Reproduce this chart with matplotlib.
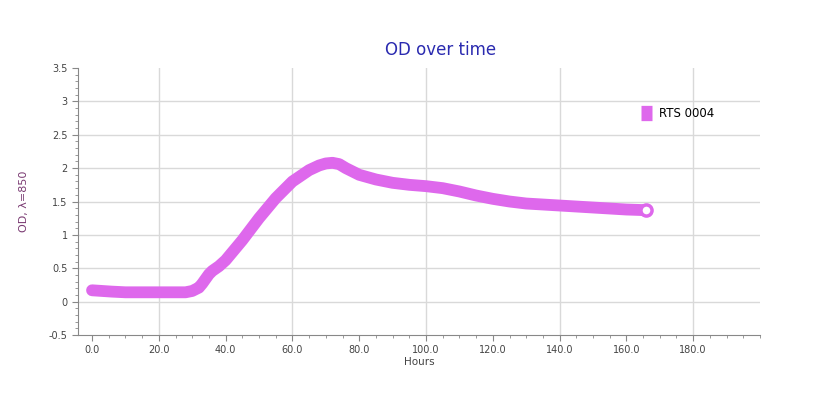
import matplotlib.pyplot as plt
from matplotlib.ticker import MultipleLocator, FormatStrFormatter

# OD readings
hours = [0, 3, 6, 10, 15, 20, 25, 28, 30, 32, 33, 34, 35, 36, 38, 40, 45, 50, 55,
         60, 65, 68, 70, 72, 74, 76, 78, 80, 85, 90, 95, 100, 105, 110, 115, 120,
         125, 130, 140, 150, 160, 166]
od = [0.17, 0.16, 0.15, 0.14, 0.14, 0.14, 0.14, 0.14, 0.16, 0.21, 0.27, 0.34, 0.41,
      0.46, 0.53, 0.62, 0.92, 1.25, 1.55, 1.80, 1.97, 2.04, 2.07, 2.08, 2.06, 2.00,
      1.95, 1.90, 1.83, 1.78, 1.75, 1.73, 1.70, 1.65, 1.59, 1.54, 1.50, 1.47, 1.44,
      1.41, 1.38, 1.37]
series_name = 'RTS 0004'

color = '#DE68EC'
grid_c = '#d9d9d9'
tick_c = '#444444'

fig = plt.figure(figsize=(8.15, 3.94), dpi=100)
ax = fig.add_axes([0.0957, 0.1497, 0.8368, 0.6777])

ax.plot(hours, od, color=color, lw=8.5, solid_capstyle='round', solid_joinstyle='round',
        label=series_name, zorder=3)
ax.plot(hours[-1], od[-1], 'o', ms=8, mfc='white', mec=color, mew=2.5, zorder=4)

ax.set_xlim(-4.2, 200)
ax.set_ylim(-0.5, 3.5)
ax.xaxis.set_minor_locator(MultipleLocator(5))
ax.xaxis.set_major_formatter(FormatStrFormatter('%.1f'))
ax.yaxis.set_minor_locator(MultipleLocator(0.1))
ax.set_yticks([-0.5, 0, 0.5, 1, 1.5, 2, 2.5, 3, 3.5])
ax.set_yticklabels(['-0.5', '0', '0.5', '1', '1.5', '2', '2.5', '3', '3.5'])
ax.set_xticks([0, 20, 40, 60, 80, 100, 120, 140, 160, 180])

# grid: horizontal at each 0.5, vertical every 40 starting at 20
for y in [0, 0.5, 1, 1.5, 2, 2.5, 3]:
    ax.axhline(y, color=grid_c, lw=1, zorder=1)
for x in [20, 60, 100, 140, 180]:
    ax.axvline(x, color=grid_c, lw=1, zorder=1)

for s in ['top', 'right']:
    ax.spines[s].set_visible(False)
for s in ['left', 'bottom']:
    ax.spines[s].set_color('#888888')
ax.tick_params(which='both', colors='#888888', labelcolor=tick_c, labelsize=7)
ax.tick_params(which='major', length=4)
ax.tick_params(which='minor', length=2)

ax.set_xlabel('Hours', fontsize=7.5, color=tick_c, labelpad=1)
ax.set_ylabel('OD, λ=850', fontsize=8, color='#7a3a72', labelpad=14)
fig.text(0.54, 0.873, 'OD over time', ha='center', va='center', fontsize=12, color='#2b2bb0')

leg = fig.legend(*ax.get_legend_handles_labels(), loc='center left',
                 bbox_to_anchor=(0.787, 0.711), frameon=False, borderpad=0,
                 borderaxespad=0, handlelength=0.9, handleheight=0.9, fontsize=8.5,
                 handletextpad=0.6)
for h in leg.legend_handles:
    h.set_linewidth(11)
    h.set_solid_capstyle('butt')

fig.savefig('out.png', dpi=100)
